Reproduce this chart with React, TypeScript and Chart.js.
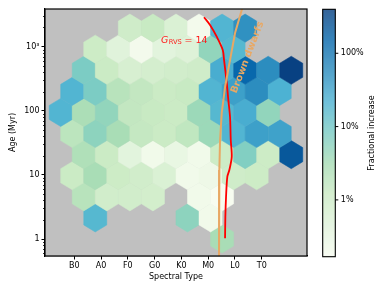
import React, { useEffect, useRef } from 'react';
import { Chart, registerables } from 'chart.js';

Chart.register(...registerables);

// ---------- axes ----------
const SPT_TICKS = [0, 1, 2, 3, 4, 5, 6, 7];
const SPT_LABELS = ['B0', 'A0', 'F0', 'G0', 'K0', 'M0', 'L0', 'T0'];
const AGE_TICKS = [1, 10, 100, 1000];
const AGE_TICK_LABELS = ['1', '10', '100', '10³'];
const X_MIN = -1.094;
const X_MAX = 8.69;
const Y_MIN = 0.543;
const Y_MAX = 3873;

// ---------- hexbin grid (spectral-type units / dex) ----------
const HEX_DX = 0.861;
const HEX_DLOG = 0.658;
const ROW_AGES = [1.0, 2.133, 4.55, 9.705, 20.7, 44.16, 94.19, 200.9, 428.5, 914.1, 1950];
const EVEN_COLS = [-0.508, 0.353, 1.214, 2.075, 2.936, 3.797, 4.658, 5.519, 6.38, 7.241, 8.102];
const ODD_COLS = [-0.078, 0.783, 1.644, 2.505, 3.366, 4.227, 5.088, 5.949, 6.81, 7.671, 8.532];

// fractional increase per hex cell, percent (null = empty)
const FRAC_R0 = [null, null, null, null, null, null, null, 3.0, null, null, null];
const FRAC_R1 = [null, 18, null, null, null, 5.5, 0.22, null, null, null, null];
const FRAC_R2 = [null, 2.0, 0.9, 0.9, 0.85, null, 0.22, 0.17, null, null, null];
const FRAC_R3 = [1.2, 3.0, 1.1, 0.9, 0.6, 0.22, 0.25, 1.0, 1.1, null, null];
const FRAC_R4 = [null, 2.5, 1.2, 0.4, 0.22, 0.3, 0.22, 1.1, 7.0, 1.1, 220];
const FRAC_R5 = [1.8, 5.5, 3.0, 1.4, 1.2, 1.6, 4.0, 20, 35, 33, null];
const FRAC_R6 = [20, 2.8, 5.0, 1.5, 1.3, 1.2, 4.0, 18, 25, 5.0, null];
const FRAC_R7 = [20, 8.0, 2.0, 1.5, 1.2, 1.3, 20, 35, 55, 22, null];
const FRAC_R8 = [null, 8.0, 1.2, 0.7, 0.8, 0.9, 1.0, 25, 150, 55, 390];
const FRAC_R9 = [null, 1.1, 0.45, 0.2, 0.4, 0.5, 5.0, 18, null, null, null];
const FRAC_R10 = [null, null, null, 1.0, 1.3, 0.6, 0.2, 20, 50, null, null];
const FRAC_ROWS = [FRAC_R0, FRAC_R1, FRAC_R2, FRAC_R3, FRAC_R4, FRAC_R5, FRAC_R6, FRAC_R7, FRAC_R8, FRAC_R9, FRAC_R10];

// ---------- curves ----------
const GRVS_SPT = [4.845, 5.069, 5.319, 5.544, 5.592, 5.693, 5.753, 5.816, 5.843, 5.88, 5.79, 5.715, 5.667, 5.641, 5.63];
const GRVS_AGE = [2876, 2181, 1432, 889, 621, 272, 147, 80, 35, 19.2, 11.9, 9.4, 4.57, 2.23, 1.03];
const BD_SPT = [6.36, 6.253, 6.003, 5.816, 5.63, 5.506, 5.443, 5.417, 5.405];
const BD_AGE = [5360, 3740, 1636, 621, 235, 92.5, 35, 11.9, 0.5];

// ---------- colourbar ----------
const CB_MIN = 0.168;
const CB_MAX = 398;
const CB_TICKS = [1, 10, 100];
const CB_TICK_LABELS = ['1%', '10%', '100%'];

// ---------- annotations ----------
const GRVS_LABEL_POS = { x: 3.24, y: 1154 };
const BD_LABEL_POS = { x: 6.47, y: 680 };
const BD_LABEL_ANGLE = -69;

const BG_COLOR = '#c0c0c0';
const BD_COLOR = '#e8a864';
const FONT = '"DejaVu Sans", sans-serif';

const GNBU = [
  [247, 252, 240], [224, 243, 219], [204, 235, 197], [168, 221, 181], [123, 204, 196],
  [78, 179, 211], [43, 140, 190], [8, 104, 172], [8, 64, 129],
];

function gnbu(t: number) {
  const c = Math.max(0, Math.min(1, t)) * 8;
  const i = Math.min(7, Math.floor(c));
  const f = c - i;
  const a = GNBU[i], b = GNBU[i + 1];
  const m = (k: number) => Math.round(a[k] + (b[k] - a[k]) * f);
  return `rgb(${m(0)},${m(1)},${m(2)})`;
}

function fracColor(v: number) {
  const lo = Math.log10(CB_MIN), hi = Math.log10(CB_MAX);
  return gnbu((Math.log10(v) - lo) / (hi - lo));
}

const HEX_SHAPE = [[0.5, -0.5], [0.5, 0.5], [0, 1], [-0.5, 0.5], [-0.5, -0.5], [0, -1]];

const hexPlugin = {
  id: 'hexbins',
  beforeDatasetsDraw(chart: any) {
    const { ctx, chartArea: a, scales } = chart;
    const xs = scales.x, ys = scales.y;
    ctx.save();
    ctx.beginPath();
    ctx.rect(a.left, a.top, a.right - a.left, a.bottom - a.top);
    ctx.clip();
    ctx.fillStyle = BG_COLOR;
    ctx.fillRect(a.left, a.top, a.right - a.left, a.bottom - a.top);
    FRAC_ROWS.forEach((row, r) => {
      const cols = r % 2 === 0 ? EVEN_COLS : ODD_COLS;
      const ly = Math.log10(ROW_AGES[r]);
      row.forEach((v, k) => {
        if (v == null) return;
        const cx = cols[k];
        ctx.beginPath();
        HEX_SHAPE.forEach(([dx, dy], i) => {
          const px = xs.getPixelForValue(cx + dx * HEX_DX);
          const py = ys.getPixelForValue(Math.pow(10, ly + (dy * HEX_DLOG) / 3));
          if (i === 0) ctx.moveTo(px, py); else ctx.lineTo(px, py);
        });
        ctx.closePath();
        const col = fracColor(v);
        ctx.fillStyle = col;
        ctx.strokeStyle = col;
        ctx.lineWidth = 0.5;
        ctx.fill();
        ctx.stroke();
      });
    });
    ctx.restore();
  },
  afterDatasetsDraw(chart: any) {
    const { ctx, chartArea: a, scales } = chart;
    const xs = scales.x, ys = scales.y;
    ctx.save();
    ctx.beginPath();
    ctx.rect(a.left, a.top, a.right - a.left, a.bottom - a.top);
    ctx.clip();
    // G_RVS label
    let px = xs.getPixelForValue(GRVS_LABEL_POS.x);
    const py = ys.getPixelForValue(GRVS_LABEL_POS.y);
    ctx.fillStyle = '#ff1a1a';
    ctx.textBaseline = 'alphabetic';
    ctx.textAlign = 'left';
    ctx.font = `italic 9.5px ${FONT}`;
    ctx.fillText('G', px, py);
    px += ctx.measureText('G').width + 0.3;
    ctx.font = `6.7px ${FONT}`;
    ctx.fillText('RVS', px, py + 1.6);
    px += ctx.measureText('RVS').width + 2.6;
    ctx.font = `9.5px ${FONT}`;
    ctx.fillText('= 14', px, py);
    // Brown dwarfs label
    const bx = xs.getPixelForValue(BD_LABEL_POS.x);
    const by = ys.getPixelForValue(BD_LABEL_POS.y);
    ctx.translate(bx, by);
    ctx.rotate((BD_LABEL_ANGLE * Math.PI) / 180);
    ctx.fillStyle = BD_COLOR;
    ctx.font = `bold 9.8px ${FONT}`;
    ctx.textAlign = 'center';
    ctx.textBaseline = 'middle';
    ctx.fillText('Brown dwarfs', 0, 0);
    ctx.restore();
  },
  afterDraw(chart: any) {
    const { ctx, chartArea: a, scales } = chart;
    const ys = scales.y;
    ctx.save();
    // minor log ticks
    ctx.strokeStyle = '#000';
    ctx.lineWidth = 0.8;
    for (let d = -1; d <= 3; d++) {
      for (let m = 2; m <= 9; m++) {
        const v = m * Math.pow(10, d);
        if (v < Y_MIN || v > Y_MAX) continue;
        const y = Math.round(ys.getPixelForValue(v)) + 0.5;
        ctx.beginPath();
        ctx.moveTo(a.left - 2, y);
        ctx.lineTo(a.left, y);
        ctx.stroke();
      }
    }
    // frame
    ctx.lineWidth = 1.2;
    ctx.strokeRect(a.left, a.top, a.right - a.left, a.bottom - a.top);

    // colourbar
    const cbL = a.right + 15.7;
    const cbW = 12.6;
    const cbT = a.top + 0.3;
    const cbB = a.bottom + 0.7;
    const h = cbB - cbT;
    const lo = Math.log10(CB_MIN), hi = Math.log10(CB_MAX);
    for (let i = 0; i < Math.ceil(h); i++) {
      const t = 1 - (i + 0.5) / h;
      ctx.fillStyle = gnbu(t);
      ctx.fillRect(cbL, cbT + i, cbW, 1.05);
    }
    ctx.strokeStyle = '#000';
    ctx.lineWidth = 1.1;
    ctx.strokeRect(cbL, cbT, cbW, h);
    ctx.fillStyle = '#000';
    ctx.font = `8px ${FONT}`;
    ctx.textAlign = 'left';
    ctx.textBaseline = 'middle';
    CB_TICKS.forEach((v, i) => {
      const y = cbB - ((Math.log10(v) - lo) / (hi - lo)) * h;
      ctx.beginPath();
      ctx.lineWidth = 1;
      ctx.moveTo(cbL + cbW, y);
      ctx.lineTo(cbL + cbW + 3, y);
      ctx.stroke();
      ctx.fillText(CB_TICK_LABELS[i], cbL + cbW + 5.5, y);
    });
    ctx.translate(cbL + 49.6, (cbT + cbB) / 2);
    ctx.rotate(-Math.PI / 2);
    ctx.textAlign = 'center';
    ctx.fillText('Fractional increase', 0, 0);
    ctx.restore();
  },
};

export default function App() {
  const ref = useRef<HTMLCanvasElement | null>(null);
  useEffect(() => {
    if (!ref.current) return;
    const chart = new Chart(ref.current, {
      type: 'scatter',
      data: {
        datasets: [
          {
            data: BD_SPT.map((s, i) => ({ x: s, y: BD_AGE[i] })),
            showLine: true,
            borderColor: BD_COLOR,
            borderWidth: 2,
            pointRadius: 0,
          },
          {
            data: GRVS_SPT.map((s, i) => ({ x: s, y: GRVS_AGE[i] })),
            showLine: true,
            borderColor: '#ff0000',
            borderWidth: 1.8,
            pointRadius: 0,
            tension: 0.3,
          },
        ],
      },
      options: {
        animation: false,
        responsive: false,
        devicePixelRatio: 1,
        layout: { padding: { left: 0, top: 9, right: 82, bottom: 0 } },
        plugins: { legend: { display: false }, tooltip: { enabled: false } },
        scales: {
          x: {
            type: 'linear',
            min: X_MIN,
            max: X_MAX,
            afterFit: (s: any) => { s.height = 36; },
            afterBuildTicks: (s: any) => { s.ticks = SPT_TICKS.map((v) => ({ value: v })); },
            ticks: {
              callback: (v: any) => SPT_LABELS[SPT_TICKS.indexOf(Number(v))],
              font: { family: FONT, size: 8 },
              color: '#000',
              padding: 2,
              maxRotation: 0,
              autoSkip: false,
            },
            grid: { drawOnChartArea: false, tickLength: 3.5, color: '#000', tickWidth: 1 },
            border: { display: true, color: '#000', width: 1.2 },
            title: {
              display: true,
              text: 'Spectral Type',
              font: { family: FONT, size: 8 },
              color: '#000',
              padding: { top: 0, bottom: 10 },
            },
          },
          y: {
            type: 'logarithmic',
            min: Y_MIN,
            max: Y_MAX,
            afterFit: (s: any) => { s.width = 45; },
            afterBuildTicks: (s: any) => { s.ticks = AGE_TICKS.map((v) => ({ value: v })); },
            ticks: {
              callback: (v: any) => AGE_TICK_LABELS[AGE_TICKS.indexOf(Number(v))],
              font: { family: FONT, size: 8 },
              color: '#000',
              padding: 2,
              autoSkip: false,
            },
            grid: { drawOnChartArea: false, tickLength: 3.5, color: '#000', tickWidth: 1 },
            border: { display: true, color: '#000', width: 1.2 },
            title: {
              display: true,
              text: 'Age (Myr)',
              font: { family: FONT, size: 8 },
              color: '#000',
              padding: { top: 8.5, bottom: 0 },
            },
          },
        },
      },
      plugins: [hexPlugin],
    } as any);
    return () => chart.destroy();
  }, []);
  return (
    <div style={{ position: 'absolute', left: 0, top: 0, width: 389, height: 292 }}>
      <canvas ref={ref} width={389} height={292} />
    </div>
  );
}
